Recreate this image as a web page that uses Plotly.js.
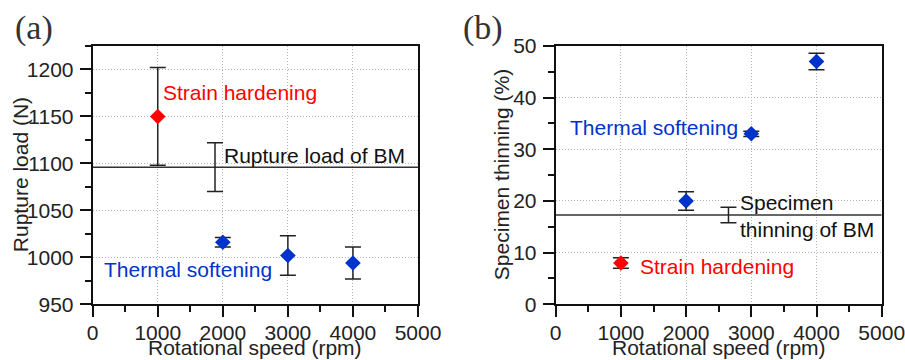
<!DOCTYPE html>
<html>
<head>
<meta charset="utf-8">
<script src="https://cdn.plot.ly/plotly-3.0.1.min.js"></script>
<style>html,body{margin:0;padding:0;background:#fff}#chart{width:905px;height:360px}</style>
</head>
<body>
<div id="chart"></div>
<script>
// Panel (a): rupture load
const speedA = [1000, 2000, 3000, 4000];
const loadA = [1150, 1016, 1002, 994];
const loadErrA = [52, 5, 21, 17];
const bmLoad = 1096;
const bmLoadErr = 26;
const bmLoadX = 1880;

// Panel (b): specimen thinning
const speedB = [1000, 2000, 3000, 4000];
const thinB = [8, 20, 33, 47];
const thinErrB = [1.0, 1.8, 0.5, 1.6];
const bmThin = 17.3;
const bmThinErr = 1.5;
const bmThinX = 2650;

const xTitle = 'Rotational speed (rpm)';
const yTitleA = 'Rupture load (N)';
const yTitleB = 'Specimen thinning (%)';

const RED = '#ff0000', BLUE = '#0033cc';
const FONT = 'Arial, "Liberation Sans", sans-serif';

function colorsFor(n){ return n.map((v,i)=> i===0 ? RED : BLUE); }

const errStyle = {color:'#222', thickness:1.5, width:8};

const traces = [
  {x: [0, 5000], y: [bmLoad, bmLoad], xaxis:'x', yaxis:'y', mode:'lines', type:'scatter',
   line:{color:'#333', width:1.5}},
  {x: speedA, y: loadA, xaxis:'x', yaxis:'y', mode:'markers', type:'scatter',
   marker:{symbol:'diamond', size:12, color: colorsFor(speedA)},
   error_y: Object.assign({type:'data', array: loadErrA, visible:true}, errStyle)},
  {x: [bmLoadX], y: [bmLoad], xaxis:'x', yaxis:'y', mode:'markers', type:'scatter',
   marker:{size:1, color:'rgba(0,0,0,0)'},
   error_y: Object.assign({type:'data', array:[bmLoadErr], visible:true}, errStyle)},
  {x: [0, 5000], y: [bmThin, bmThin], xaxis:'x2', yaxis:'y2', mode:'lines', type:'scatter',
   line:{color:'#333', width:1.5}},
  {x: speedB, y: thinB, xaxis:'x2', yaxis:'y2', mode:'markers', type:'scatter',
   marker:{symbol:'diamond', size:12, color: colorsFor(speedB)},
   error_y: Object.assign({type:'data', array: thinErrB, visible:true}, errStyle)},
  {x: [bmThinX], y: [bmThin], xaxis:'x2', yaxis:'y2', mode:'markers', type:'scatter',
   marker:{size:1, color:'rgba(0,0,0,0)'},
   error_y: Object.assign({type:'data', array:[bmThinErr], visible:true}, errStyle)}
];

const GRID = {showgrid:true, gridcolor:'#b4b4b4', griddash:'1px,2px', gridwidth:1, zeroline:false};

function xAxis(domain, anchor){
  return Object.assign({domain: domain, anchor: anchor, range:[0,5000], dtick:1000, tick0:0,
    showline:true, mirror:true, linecolor:'#111', linewidth:2,
    ticks:'outside', ticklen:11, tickwidth:2, tickcolor:'#111',
    minor:{dtick:500, ticks:'outside', ticklen:6, tickwidth:2, tickcolor:'#111', showgrid:false},
    tickfont:{family:FONT, size:21, color:'#222'}, ticklabelstandoff:-3, ticklabeloverflow:'allow',
    automargin:false, fixedrange:true}, GRID);
}
function yAxis(domain, anchor, range, dtick, minorD){
  return Object.assign({domain: domain, anchor: anchor, range: range, dtick: dtick,
    showline:true, mirror:true, linecolor:'#111', linewidth:2,
    ticks:'outside', ticklen:11, tickwidth:2, tickcolor:'#111',
    minor:{dtick:minorD, ticks:'outside', ticklen:6, tickwidth:2, tickcolor:'#111', showgrid:false},
    tickfont:{family:FONT, size:21, color:'#222'}, ticklabelstandoff:2, ticklabeloverflow:'allow',
    automargin:false, fixedrange:true}, GRID);
}

const xDomA = [92.7/905, 418/905], xDomB = [555.7/905, 881.7/905];
const yDom = [1-304.3/360, 1-46/360];
const titleFont = {family:FONT, size:21, color:'#222'};
const layout = {
  width:905, height:360, margin:{l:0,r:0,t:0,b:0},
  paper_bgcolor:'#fff', plot_bgcolor:'#fff', showlegend:false,
  xaxis: xAxis(xDomA, 'y'),
  yaxis: yAxis(yDom, 'x', [950, 1225], 50, 25),
  xaxis2: xAxis(xDomB, 'y2'),
  yaxis2: yAxis(yDom, 'x2', [0, 50], 10, 5),
  annotations: [
    {xref:'paper', yref:'paper', x:(xDomA[0]+xDomA[1])/2, y:0, xanchor:'center', yanchor:'bottom', showarrow:false,
     borderpad:0, text:xTitle, font:titleFont},
    {xref:'paper', yref:'paper', x:(xDomB[0]+xDomB[1])/2, y:0, xanchor:'center', yanchor:'bottom', showarrow:false,
     borderpad:0, text:xTitle, font:titleFont},
    {xref:'paper', yref:'paper', x:20/905, y:(yDom[0]+yDom[1])/2, xanchor:'center', yanchor:'middle', showarrow:false,
     textangle:-90, text:yTitleA, font:titleFont},
    {xref:'paper', yref:'paper', x:501/905, y:(yDom[0]+yDom[1])/2, xanchor:'center', yanchor:'middle', showarrow:false,
     textangle:-90, text:yTitleB, font:titleFont},
    {xref:'paper', yref:'paper', x:13/905, y:1-28/360, xanchor:'left', yanchor:'middle', showarrow:false,
     text:'(a)', font:{family:'"Liberation Serif", "Times New Roman", serif', size:34, color:'#333'}},
    {xref:'paper', yref:'paper', x:461/905, y:1-28/360, xanchor:'left', yanchor:'middle', showarrow:false,
     text:'(b)', font:{family:'"Liberation Serif", "Times New Roman", serif', size:34, color:'#333'}},
    {xref:'x', yref:'y', x:1050, y:1175, xanchor:'left', yanchor:'middle', showarrow:false,
     text:'Strain hardening', font:{family:FONT, size:21, color:RED}},
    {xref:'x', yref:'y', x:1990, y:1108, xanchor:'left', yanchor:'middle', showarrow:false,
     text:'Rupture load of BM', font:{family:FONT, size:21, color:'#111'}},
    {xref:'x', yref:'y', x:138, y:987, xanchor:'left', yanchor:'middle', showarrow:false,
     text:'Thermal softening', font:{family:FONT, size:21, color:BLUE}},
    {xref:'x2', yref:'y2', x:184, y:34.3, xanchor:'left', yanchor:'middle', showarrow:false,
     text:'Thermal softening', font:{family:FONT, size:21, color:BLUE}},
    {xref:'x2', yref:'y2', x:2790, y:17, xanchor:'left', yanchor:'middle', showarrow:false, align:'left',
     text:'Specimen<br>thinning of BM', font:{family:FONT, size:21, color:'#111'}},
    {xref:'x2', yref:'y2', x:1267, y:7.3, xanchor:'left', yanchor:'middle', showarrow:false,
     text:'Strain hardening', font:{family:FONT, size:21, color:RED}}
  ]
};

Plotly.newPlot('chart', traces, layout, {staticPlot:true, displayModeBar:false});
</script>
</body>
</html>
